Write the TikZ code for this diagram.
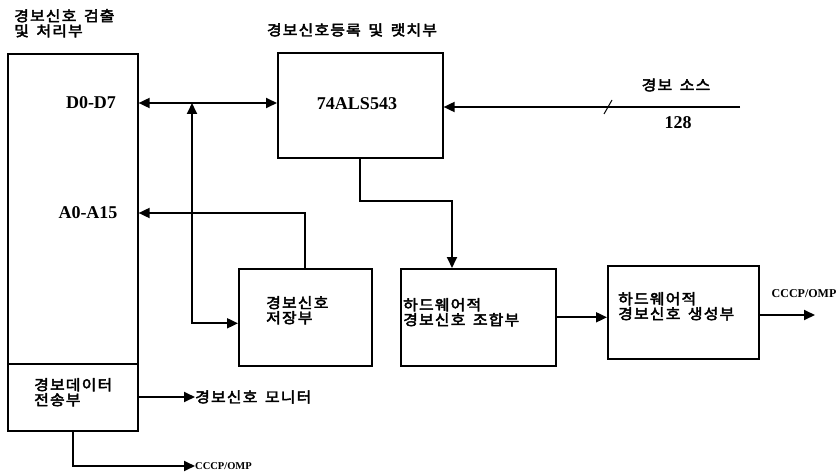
\documentclass[tikz,border=0pt]{standalone}
\usepackage{fontspec}
\setmainfont{Liberation Serif}
\newfontfamily\kr[FakeBold=3,FakeStretch=1.1,LetterSpace=8,WordSpace=1.6]{Noto Sans CJK KR}
\usetikzlibrary{arrows.meta,positioning}

\tikzset{
  blk/.style={draw, line width=1.6pt, anchor=north west, inner sep=0pt},
  lbl/.style={font=\kr\fontsize{14.5}{15}\selectfont, align=left, inner sep=0pt},
  sig/.style={font=\bfseries\fontsize{18}{19}\selectfont, inner sep=0pt},
  wire/.style={line width=1.8pt, -{Triangle[length=11pt,width=10pt]}},
  bus/.style={line width=1.8pt, {Triangle[length=11pt,width=10pt]}-{Triangle[length=11pt,width=10pt]}}
}

\begin{document}
\begin{tikzpicture}[x=1pt, y=-1pt]
	\useasboundingbox (0,0) rectangle (840,476);
	% blocks
	\node[blk, minimum width=130, minimum height=310] (proc) at (7,53) {};
	\node[blk, minimum width=130, minimum height=67] (xmit) at (7,363) {};
	\node[blk, minimum width=165, minimum height=105] (latch) at (277,52) {};
	\node[blk, minimum width=133, minimum height=97] (store) at (238,268) {};
	\node[blk, minimum width=155, minimum height=97] (comb) at (400,268) {};
	\node[blk, minimum width=151, minimum height=93] (gen) at (607,265) {};
	% titles
	\node[lbl, anchor=north west] (proct) at (14,9) {경보신호 검출\\및 처리부};
	\node[lbl] (latcht) at (352,30) {경보신호등록 및 랫치부};
	% texts inside
	\node[sig] (d07) at (91,103) {D0-D7};
	\node[sig] (a015) at (88,213) {A0-A15};
	\node[sig] (chip) at (357,104) {74ALS543};
	\node[lbl, anchor=north west] (storet) at (266,296) {경보신호\\저장부};
	\node[lbl, anchor=north west] (combt) at (403,298) {하드웨어적\\경보신호 조합부};
	\node[lbl, anchor=north west] (gent) at (618,292) {하드웨어적\\경보신호 생성부};
	\node[lbl, anchor=north west] (xmitt) at (34,378) {경보데이터\\전송부};
	% outside labels
	\node[lbl] (srct) at (676,85) {경보 소스};
	\node[sig] (n128) at (678,123) {128};
	\node[sig, font=\bfseries\fontsize{12}{13}\selectfont] (out1) at (804,294) {CCCP/OMP};
	\node[lbl, anchor=west] (mon) at (195,397) {경보신호 모니터};
	\node[sig, font=\bfseries\fontsize{10.5}{12}\selectfont, anchor=west] (out2) at (195,466) {CCCP/OMP};
	\coordinate (src) at (740,107);
	\coordinate (tap) at (192,103);
	\coordinate (drop) at (452,201);
	\coordinate (outend) at (815,315);
	% connectors
	\draw[bus] (proc.east |- d07) -- (latch.west |- d07);
	\draw[bus] (tap) |- ([yshift=-6pt]store.west);
	\draw[wire] (store.north) |- (proc.east |- a015);
	\draw[wire] (src) -- (latch.east |- src);
	\draw[line width=1pt] (604,114) -- (612,100);
	\draw[wire] (latch.south) |- (drop) -- (drop |- comb.north);
	\draw[wire] (comb.east) -- (comb.east -| gen.west);
	\draw[wire] (gen.east |- outend) -- (outend);
	\draw[wire] (xmit.east |- mon) -- (mon.west);
	\draw[wire] (xmit.south) |- (out2.west);
\end{tikzpicture}
\end{document}
